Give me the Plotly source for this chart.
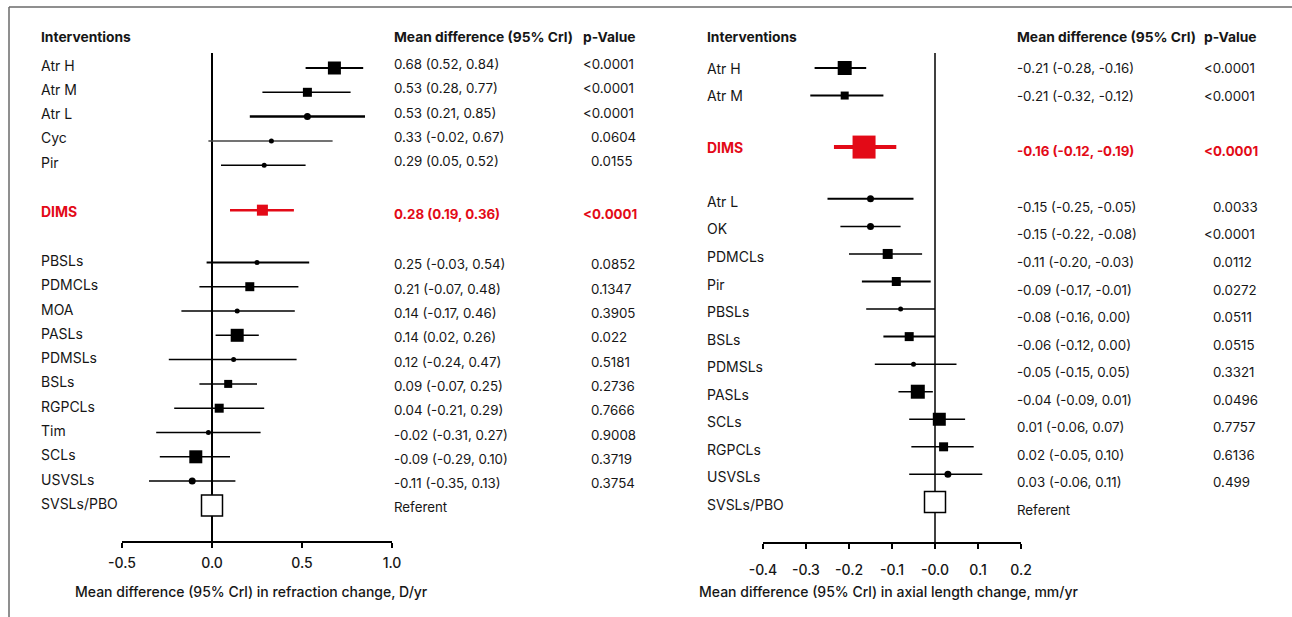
import plotly.graph_objects as go

W, H = 1292, 617

# ---------------- data: refraction change (left panel) ----------------
ref_names = ["Atr H", "Atr M", "Atr L", "Cyc", "Pir", "DIMS", "PBSLs", "PDMCLs", "MOA",
             "PASLs", "PDMSLs", "BSLs", "RGPCLs", "Tim", "SCLs", "USVSLs", "SVSLs/PBO"]
ref_mean = [0.68, 0.53, 0.53, 0.33, 0.29, 0.28, 0.25, 0.21, 0.14, 0.14, 0.12, 0.09, 0.04,
            -0.02, -0.09, -0.11, 0.0]
ref_lo = [0.52, 0.28, 0.21, -0.02, 0.05, 0.10, -0.03, -0.07, -0.17, 0.02, -0.24, -0.07,
          -0.21, -0.31, -0.29, -0.35, None]
ref_hi = [0.84, 0.77, 0.85, 0.67, 0.52, 0.455, 0.54, 0.48, 0.46, 0.26, 0.47, 0.25, 0.29,
          0.27, 0.10, 0.13, None]
ref_ci_text = ["0.68 (0.52, 0.84)", "0.53 (0.28, 0.77)", "0.53 (0.21, 0.85)",
               "0.33 (-0.02, 0.67)", "0.29 (0.05, 0.52)", "0.28 (0.19, 0.36)",
               "0.25 (-0.03, 0.54)", "0.21 (-0.07, 0.48)", "0.14 (-0.17, 0.46)",
               "0.14 (0.02, 0.26)", "0.12 (-0.24, 0.47)", "0.09 (-0.07, 0.25)",
               "0.04 (-0.21, 0.29)", "-0.02 (-0.31, 0.27)",
               "-0.09 (-0.29, 0.10)", "-0.11 (-0.35, 0.13)", "Referent"]
ref_p_text = ["<0.0001", "<0.0001", "<0.0001", "0.0604", "0.0155", "<0.0001", "0.0852",
              "0.1347", "0.3905", "0.022", "0.5181", "0.2736", "0.7666", "0.9008", "0.3719",
              "0.3754", ""]
ref_ticks = [-0.5, 0.0, 0.5, 1.0]
ref_ticktext = ["-0.5", "0.0", "0.5", "1.0"]
ref_title = "Mean difference (95% Crl) in refraction change, D/yr"

# ---------------- data: axial length change (right panel) ----------------
ax_names = ["Atr H", "Atr M", "DIMS", "Atr L", "OK", "PDMCLs", "Pir", "PBSLs", "BSLs",
            "PDMSLs", "PASLs", "SCLs", "RGPCLs", "USVSLs", "SVSLs/PBO"]
ax_mean = [-0.21, -0.21, -0.165, -0.15, -0.15, -0.11, -0.09, -0.08, -0.06, -0.05, -0.04,
           0.01, 0.02, 0.03, 0.0]
ax_lo = [-0.28, -0.29, -0.235, -0.25, -0.22, -0.20, -0.17, -0.16, -0.12, -0.14, -0.085,
         -0.06, -0.055, -0.06, None]
ax_hi = [-0.16, -0.12, -0.09, -0.05, -0.08, -0.03, -0.01, 0.00, 0.00, 0.05, -0.005, 0.07,
         0.09, 0.11, None]
ax_ci_text = ["-0.21 (-0.28, -0.16)", "-0.21 (-0.32, -0.12)", "-0.16 (-0.12, -0.19)",
              "-0.15 (-0.25, -0.05)", "-0.15 (-0.22, -0.08)", "-0.11 (-0.20, -0.03)",
              "-0.09 (-0.17, -0.01)", "-0.08 (-0.16, 0.00)", "-0.06 (-0.12, 0.00)",
              "-0.05 (-0.15, 0.05)", "-0.04 (-0.09, 0.01)", "0.01 (-0.06, 0.07)",
              "0.02 (-0.05, 0.10)", "0.03 (-0.06, 0.11)", "Referent"]
ax_p_text = ["<0.0001", "<0.0001", "<0.0001", "0.0033", "<0.0001", "0.0112", "0.0272",
             "0.0511", "0.0515", "0.3321", "0.0496", "0.7757", "0.6136", "0.499", ""]
ax_ticks = [-0.4, -0.3, -0.2, -0.1, 0.0, 0.1, 0.2]
ax_ticktext = ["-0.4", "-0.3", "-0.2", "-0.1", "-0.0", "0.1", "0.2"]
ax_title = "Mean difference (95% Crl) in axial length change, mm/yr"

headers = ["Interventions", "Mean difference (95% Crl)", "p-Value"]
highlight = "DIMS"

# ---------------- layout / style ----------------
FONT = "Inter"
TXT = "#161616"
RED = "#e30a17"

# row slots (row index with gaps between groups)
left_slots = [0, 1, 2, 3, 4, 5.85] + [8 + i for i in range(11)]
right_slots = [0, 1, 2.87] + [4.75 + i for i in range(12)]

left_sizes = [13, 9, 7, 5, 5, 11, 5, 9, 5, 13, 5, 8, 9, 5, 13, 7, 21]
left_widths = [2, 1.5, 2.5, 1.5, 1.5, 2.5, 2, 1.5, 1.5, 1.5, 1.5, 1.5, 1.5, 1.5, 1.5, 1.5, 0]
right_sizes = [14, 8, 23, 7, 7, 10, 9, 5, 9, 5, 14, 13, 9, 7, 21]
right_widths = [2, 2, 4, 2, 1.5, 1.5, 2, 1.5, 2, 1.5, 1.5, 1.5, 1.5, 1.5, 0]

FS_LABEL = 14
FS_HEAD = 13.8
FS_VAL = 13.3
FS_TITLE = 14
FS_TICK = 14


def py(p):
    return 1 - p / H


panels = [
    dict(names=ref_names, mean=ref_mean, lo=ref_lo, hi=ref_hi, ci=ref_ci_text, p=ref_p_text,
         slots=left_slots, sizes=left_sizes, widths=left_widths, xa="x", ya="y",
         y0px=68, step=24.3, label_x=41, val_x=394, p_x=583, p_x2=591,
         dom=(122, 392), rng=(-0.5, 1.0), axis_px=542, ticks=ref_ticks, ticktext=ref_ticktext,
         standoff=3, title=ref_title, title_x=251, lab_dy=[3] * 5 + [-1] + [2] * 11,
         val_dy=[4] * 5 + [-4] + [-2] * 11),
    dict(names=ax_names, mean=ax_mean, lo=ax_lo, hi=ax_hi, ci=ax_ci_text, p=ax_p_text,
         slots=right_slots, sizes=right_sizes, widths=right_widths, xa="x2", ya="y2",
         y0px=68, step=27.55, label_x=707, val_x=1017, p_x=1204, p_x2=1213,
         dom=(763, 1021), rng=(-0.4, 0.2), axis_px=543, ticks=ax_ticks, ticktext=ax_ticktext,
         standoff=9, title=ax_title, title_x=888, lab_dy=[0, 0, 0] + [-2.5] * 12,
         val_dy=[0, 0, -4] + [-8] * 12),
]

fig = go.Figure()
annotations = []
shapes = []
layout_axes = {}

for k, P in enumerate(panels):
    n = len(P["names"])
    for i in range(n):
        name = P["names"][i]
        col = RED if name == highlight else "black"
        y = P["slots"][i]
        if P["lo"][i] is not None:
            fig.add_trace(go.Scatter(
                x=[P["lo"][i], P["hi"][i]], y=[y, y], mode="lines",
                line=dict(color=col if name == highlight else ("#444" if name == "Cyc" else "black"),
                          width=P["widths"][i]),
                xaxis=P["xa"], yaxis=P["ya"], showlegend=False, hoverinfo="skip"))
            sym = "square" if P["sizes"][i] > 7 else "circle"
            fig.add_trace(go.Scatter(
                x=[P["mean"][i]], y=[y], mode="markers",
                marker=dict(symbol=sym, size=P["sizes"][i], color=col, line=dict(width=0)),
                xaxis=P["xa"], yaxis=P["ya"], showlegend=False, hoverinfo="skip"))
        else:
            fig.add_trace(go.Scatter(
                x=[P["mean"][i]], y=[y], mode="markers",
                marker=dict(symbol="square", size=P["sizes"][i], color="white",
                            line=dict(width=1.5, color="black")),
                xaxis=P["xa"], yaxis=P["ya"], showlegend=False, hoverinfo="skip"))

        bold = name == highlight
        fcol = RED if bold else TXT
        wt = "bold" if bold else "normal"
        annotations.append(dict(
            x=P["label_x"] / W, xref="paper", y=y, yref=P["ya"], yshift=P["lab_dy"][i],
            text=name, showarrow=False, xanchor="left", yanchor="middle",
            borderpad=0, borderwidth=0,
            font=dict(family=FONT, size=FS_LABEL, color=fcol, weight=wt)))
        annotations.append(dict(
            x=P["val_x"] / W, xref="paper", y=y, yref=P["ya"], yshift=P["val_dy"][i],
            text=P["ci"][i], showarrow=False, xanchor="left", yanchor="middle",
            borderpad=0, borderwidth=0,
            font=dict(family=FONT, size=FS_VAL, color=fcol, weight=wt)))
        ptxt = P["p"][i]
        if ptxt:
            px = P["p_x"] if ptxt.startswith("<") else P["p_x2"]
            annotations.append(dict(
                x=px / W, xref="paper", y=y, yref=P["ya"], yshift=P["val_dy"][i],
                text=ptxt.replace("<", "&lt;"), showarrow=False, xanchor="left",
                yanchor="middle", borderpad=0, borderwidth=0,
                font=dict(family=FONT, size=FS_VAL, color=fcol, weight=wt)))

    # headers
    for txt, hx in zip(headers, [P["label_x"], P["val_x"], P["p_x"]]):
        annotations.append(dict(
            x=hx / W, xref="paper", y=py(37), yref="paper", text=txt, showarrow=False,
            xanchor="left", yanchor="middle", borderpad=0, borderwidth=0,
            font=dict(family=FONT, size=FS_HEAD, color=TXT, weight="bold")))
    # axis title
    annotations.append(dict(
        x=P["title_x"] / W, xref="paper", y=py(591), yref="paper", text=P["title"],
        showarrow=False, xanchor="center", yanchor="middle", borderpad=0, borderwidth=0,
        font=dict(family=FONT, size=FS_TITLE, color=TXT, weight=500)))

    # zero line
    shapes.append(dict(type="line", xref=P["xa"], x0=0, x1=0, yref="paper",
                       y0=py(53), y1=py(P["axis_px"]), layer="below",
                       line=dict(color="black", width=2 if k == 0 else 1.5)))

    # axes
    xkey = "xaxis" if k == 0 else "xaxis2"
    ykey = "yaxis" if k == 0 else "yaxis2"
    top_slot = -P["y0px"] / P["step"]
    bot_slot = (H - P["y0px"]) / P["step"]
    layout_axes[xkey] = dict(
        domain=[P["dom"][0] / W, P["dom"][1] / W], range=list(P["rng"]), anchor="free",
        position=py(P["axis_px"]), showline=True, linecolor="black", linewidth=1.5,
        ticks="outside", ticklen=5, tickwidth=1.5, tickcolor="black",
        tickvals=P["ticks"], ticktext=P["ticktext"], ticklabelstandoff=P["standoff"],
        tickfont=dict(family=FONT, size=FS_TICK, color=TXT, weight=500),
        showgrid=False, zeroline=False, fixedrange=True, automargin=False)
    layout_axes[ykey] = dict(domain=[0, 1], range=[bot_slot, top_slot], visible=False,
                             anchor=P["xa"], fixedrange=True, automargin=False)

# frame lines (top and left)
shapes.append(dict(type="line", xref="paper", yref="paper", x0=9 / W, x1=1, y0=py(7), y1=py(7),
                   line=dict(color="#6a6a6a", width=1.5)))
shapes.append(dict(type="line", xref="paper", yref="paper", x0=9 / W, x1=9 / W, y0=py(7), y1=0,
                   line=dict(color="#6a6a6a", width=1.5)))

fig.update_layout(
    template="none", autosize=False,
    width=W, height=H, margin=dict(l=0, r=0, t=0, b=0, pad=0, autoexpand=False),
    paper_bgcolor="white", plot_bgcolor="white",
    annotations=annotations, shapes=shapes, showlegend=False,
    font=dict(family=FONT, color=TXT),
    **layout_axes)

fig.write_html("out.html", config={"displayModeBar": False})
